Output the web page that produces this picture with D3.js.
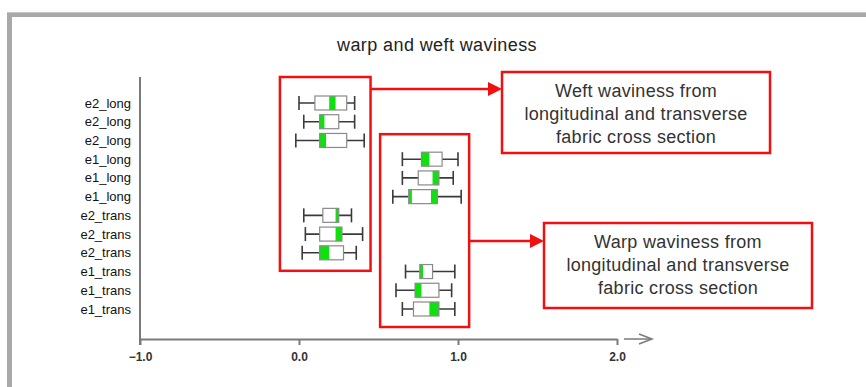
<!DOCTYPE html>
<html lang="en">
<head>
<meta charset="UTF-8"/>
<title>warp and weft waviness</title>
<script src="https://d3js.org/d3.v7.min.js"></script>
<style>
  body { margin: 0; background: #fff; }
  svg { display: block; font-family: "Liberation Sans", Arial, sans-serif; }
</style>
</head>
<body>
<script>
var w = 866;
var h = 387;

// row labels, top to bottom
var labels = ["e2_long", "e2_long", "e2_long", "e1_long", "e1_long", "e1_long",
              "e2_trans", "e2_trans", "e2_trans", "e1_trans", "e1_trans", "e1_trans"];

// box plot values
var mins = [0.00, 0.03, -0.02, 0.65, 0.65, 0.59, 0.03, 0.04, 0.02, 0.67, 0.61, 0.65];
var q1s  = [0.10, 0.13, 0.13, 0.77, 0.75, 0.69, 0.15, 0.13, 0.13, 0.76, 0.73, 0.72];
var q3s  = [0.30, 0.25, 0.30, 0.90, 0.88, 0.87, 0.25, 0.27, 0.28, 0.84, 0.88, 0.88];
var maxs = [0.35, 0.35, 0.41, 1.00, 0.97, 1.02, 0.33, 0.40, 0.36, 0.98, 0.96, 0.98];
// green bands inside the boxes [from, to]
var greenBands = [
  [[0.19, 0.23]],
  [[0.13, 0.16]],
  [[0.13, 0.17]],
  [[0.77, 0.82]],
  [[0.84, 0.88]],
  [[0.69, 0.71], [0.83, 0.87]],
  [[0.23, 0.25]],
  [[0.23, 0.27]],
  [[0.13, 0.19]],
  [[0.76, 0.78]],
  [[0.73, 0.77]],
  [[0.82, 0.88]]
];
var xTicks = [-1, 0, 1, 2];

var weftText = ["Weft waviness from", "longitudinal and transverse", "fabric cross section"];
var warpText = ["Warp waviness from", "longitudinal and transverse", "fabric cross section"];

var rows = labels.map(function (d, i) {
    return { i: i, label: d, min: mins[i], q1: q1s[i], q3: q3s[i], max: maxs[i], green: greenBands[i] };
});

var x = d3.scaleLinear().domain([-1, 2]).range([140, 617]);
var y = d3.scalePoint().domain(d3.range(labels.length)).range([103, 309]);
var boxH = 14;

var svg = d3.select("body").append("svg")
    .attr("width", w)
    .attr("height", h);

// grey frame
svg.append("rect").attr("x", 7).attr("y", 12).attr("width", w - 7).attr("height", 5).attr("fill", "#a9a9ab");
svg.append("rect").attr("x", 7).attr("y", 12).attr("width", 5).attr("height", h - 12).attr("fill", "#a9a9ab");
svg.append("rect").attr("x", 7).attr("y", 12).attr("width", w - 7).attr("height", 1).attr("fill", "#c4c4c6");

// title
svg.append("text")
    .attr("x", 437).attr("y", 51)
    .attr("text-anchor", "middle")
    .attr("font-size", "18px")
    .attr("letter-spacing", "0.4px")
    .attr("fill", "#222")
    .text("warp and weft waviness");

// axes
var axisColor = "#7a7a7a";
svg.append("line")
    .attr("x1", x(-1)).attr("x2", x(-1))
    .attr("y1", 77).attr("y2", 345)
    .attr("stroke", axisColor).attr("stroke-width", 2);

var xAxis = d3.axisBottom(x)
    .tickValues(xTicks)
    .tickFormat(d3.format(".1f"))
    .tickSize(6)
    .tickSizeOuter(0);

var gx = svg.append("g")
    .attr("transform", "translate(0,339)")
    .call(xAxis);
gx.select(".domain").attr("stroke", axisColor).attr("stroke-width", 2);
gx.selectAll(".tick line").attr("stroke", axisColor).attr("stroke-width", 2);
gx.selectAll(".tick text")
    .attr("font-family", "'Liberation Sans', Arial, sans-serif")
    .attr("font-size", "12px")
    .attr("font-weight", "bold")
    .attr("fill", "#333")
    .attr("dy", "1.1em");

// open arrow at the end of the x axis
svg.append("line")
    .attr("x1", x(2) + 7).attr("x2", x(2) + 35)
    .attr("y1", 339).attr("y2", 339)
    .attr("stroke", axisColor).attr("stroke-width", 1.5);
svg.append("path")
    .attr("d", "M" + (x(2) + 22) + ",334 L" + (x(2) + 35) + ",339 L" + (x(2) + 22) + ",344")
    .attr("fill", "none").attr("stroke", axisColor).attr("stroke-width", 1.5);

// row labels
svg.selectAll("text.rowlab")
    .data(rows)
    .enter()
    .append("text")
    .attr("class", "rowlab")
    .attr("x", 131)
    .attr("y", function (d) { return y(d.i) + 4.5; })
    .attr("text-anchor", "end")
    .attr("font-size", "13px")
    .attr("fill", "#111")
    .text(function (d) { return d.label; });

// box plots
var g = svg.selectAll("g.box")
    .data(rows)
    .enter()
    .append("g")
    .attr("class", "box")
    .attr("transform", function (d) { return "translate(0," + y(d.i) + ")"; });

var whisk = "#3a3a3a";
g.append("line")
    .attr("x1", function (d) { return x(d.min); })
    .attr("x2", function (d) { return x(d.max); })
    .attr("stroke", whisk).attr("stroke-width", 1.6);
g.append("line")
    .attr("x1", function (d) { return x(d.min); })
    .attr("x2", function (d) { return x(d.min); })
    .attr("y1", -boxH / 2).attr("y2", boxH / 2)
    .attr("stroke", whisk).attr("stroke-width", 1.6);
g.append("line")
    .attr("x1", function (d) { return x(d.max); })
    .attr("x2", function (d) { return x(d.max); })
    .attr("y1", -boxH / 2).attr("y2", boxH / 2)
    .attr("stroke", whisk).attr("stroke-width", 1.6);
g.append("rect")
    .attr("x", function (d) { return x(d.q1); })
    .attr("width", function (d) { return x(d.q3) - x(d.q1); })
    .attr("y", -boxH / 2).attr("height", boxH)
    .attr("fill", "#fff");
g.selectAll("rect.green")
    .data(function (d) { return d.green; })
    .enter()
    .append("rect")
    .attr("class", "green")
    .attr("x", function (b) { return x(b[0]); })
    .attr("width", function (b) { return x(b[1]) - x(b[0]); })
    .attr("y", -boxH / 2).attr("height", boxH)
    .attr("fill", "#10e010");
g.append("rect")
    .attr("x", function (d) { return x(d.q1); })
    .attr("width", function (d) { return x(d.q3) - x(d.q1); })
    .attr("y", -boxH / 2).attr("height", boxH)
    .attr("fill", "none")
    .attr("stroke", "#8a8a8a").attr("stroke-width", 1.2);

// red highlight frames around the two groups
var red = "#f01010";
function frame(x0, x1, y0, y1) {
    svg.append("rect")
        .attr("x", x(x0)).attr("y", y0)
        .attr("width", x(x1) - x(x0)).attr("height", y1 - y0)
        .attr("fill", "none").attr("stroke", red).attr("stroke-width", 2.5);
}
frame(-0.12, 0.45, y(0) - 26, y(8) + 18);
frame(0.51, 1.07, y(3) - 25, y(11) + 18);

// annotation boxes with arrows
function note(x0, y0, bw, bh, lines, ax, ay) {
    svg.append("line")
        .attr("x1", ax).attr("x2", x0 - 12)
        .attr("y1", ay).attr("y2", ay)
        .attr("stroke", red).attr("stroke-width", 2.5);
    svg.append("path")
        .attr("d", "M" + (x0 - 14) + "," + (ay - 7) + " L" + x0 + "," + ay + " L" + (x0 - 14) + "," + (ay + 7) + "Z")
        .attr("fill", red);
    svg.append("rect")
        .attr("x", x0).attr("y", y0)
        .attr("width", bw).attr("height", bh)
        .attr("fill", "#fff").attr("stroke", red).attr("stroke-width", 2.5);
    svg.append("g").selectAll("text")
        .data(lines)
        .enter()
        .append("text")
        .attr("x", x0 + bw / 2)
        .attr("y", function (d, i) { return y0 + 25 + i * 23; })
        .attr("text-anchor", "middle")
        .attr("font-size", "18px")
        .attr("letter-spacing", "0.3px")
        .attr("fill", "#333")
        .text(function (d) { return d; });
}
note(502, 72, 268, 81, weftText, x(0.45), 89);
note(544, 223, 268, 85, warpText, x(1.07), 241);
</script>
</body>
</html>
